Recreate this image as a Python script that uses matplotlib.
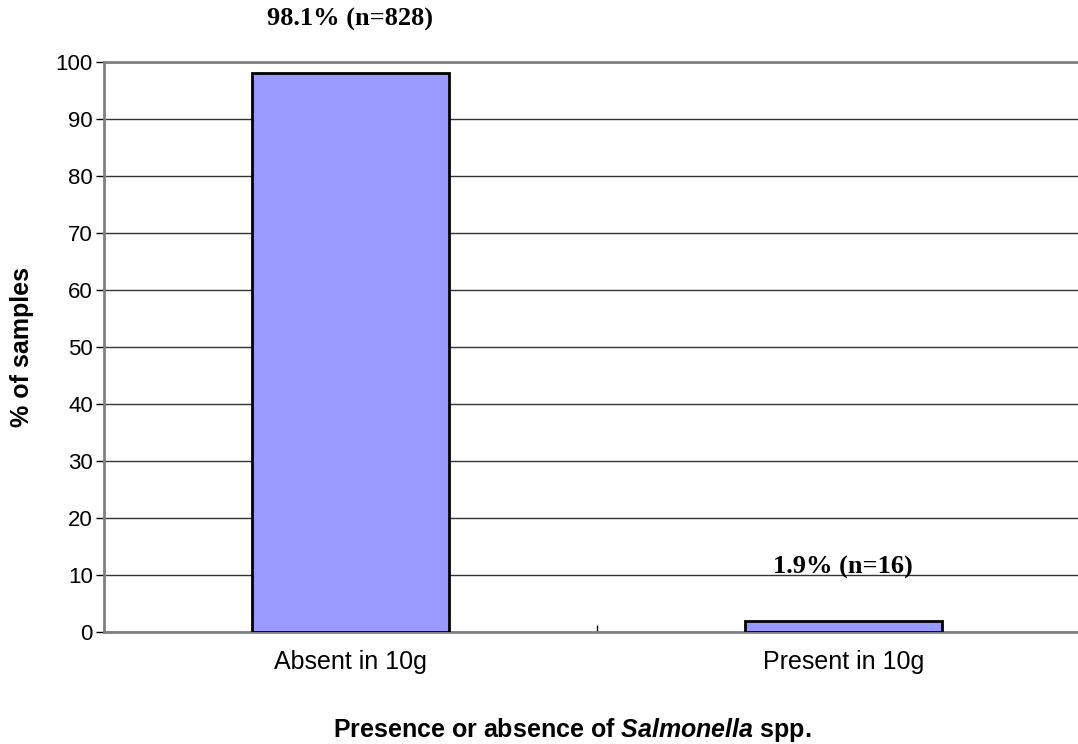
import matplotlib
matplotlib.use("Agg")
import matplotlib.pyplot as plt

categories = ["Absent in 10g", "Present in 10g"]
percent = [98.1, 1.9]
counts = [828, 16]
yticks = list(range(0, 101, 10))

plt.rcParams["font.family"] = "Liberation Sans"
plt.rcParams["mathtext.fontset"] = "custom"
plt.rcParams["mathtext.it"] = "Liberation Sans:italic:bold"

fig = plt.figure(figsize=(10.78, 7.44), dpi=100)
ax = fig.add_axes([104 / 1078, 1 - 632 / 744, (1078 - 104) / 1078, (632 - 62) / 744])

x = list(range(len(categories)))
ax.bar(x, percent, width=0.4, color="#9999ff", edgecolor="black", linewidth=2, zorder=3)

# value labels above bars
for xi, p, n in zip(x, percent, counts):
    ax.text(xi, p + 9.4, f"{p}% (n={n})", ha="center", va="center",
            fontfamily="Liberation Serif", fontweight="bold", fontsize=19)

ax.set_xlim(-0.5, 1.476)
ax.set_ylim(0, 100)
ax.set_yticks(yticks)
ax.tick_params(axis="y", direction="out", length=6, width=1, labelsize=16, pad=2)

# category labels without ticks, tick at category boundary
ax.set_xticks([0.5])
ax.set_xticklabels([""])
ax.tick_params(axis="x", direction="in", length=5, width=1)
for xi, c in zip(x, categories):
    ax.text(xi, -5.2, c, ha="center", va="center", fontsize=18)

ax.yaxis.grid(True, color="#333333", linewidth=1, zorder=0)
ax.set_axisbelow(True)
ax.spines["right"].set_visible(False)
for s in ["top", "left", "bottom"]:
    ax.spines[s].set_color("#808080")
    ax.spines[s].set_linewidth(2)

fig.text(22 / 1078, 1 - 347 / 744, "% of samples", rotation=90, ha="center", va="center",
         fontsize=18, fontweight="bold")
fig.text(572 / 1078, 1 - 730 / 744, r"Presence or absence of $\it{Salmonella}$ spp.",
         ha="center", va="center", fontsize=18, fontweight="bold")

fig.savefig("out.png", dpi=100)
